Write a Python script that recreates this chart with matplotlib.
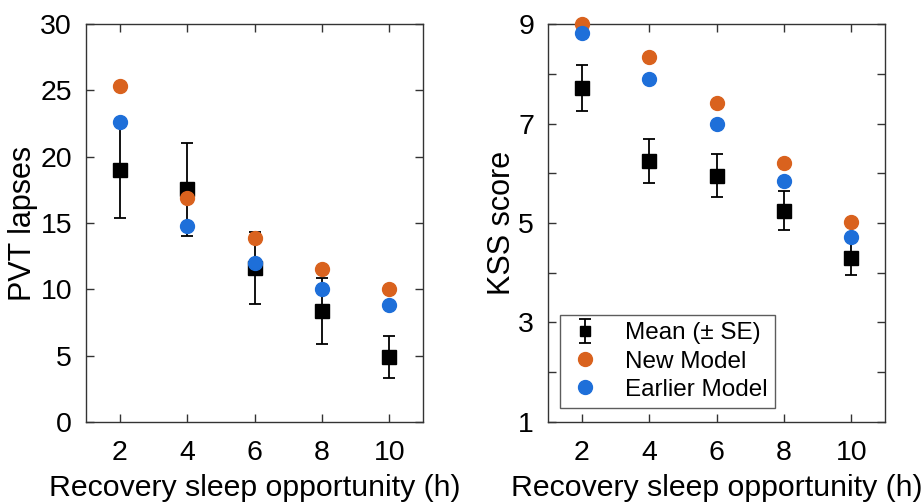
import matplotlib
matplotlib.use("Agg")
import matplotlib.pyplot as plt
from matplotlib.lines import Line2D

plt.rcParams["font.family"] = ["Liberation Sans", "DejaVu Sans"]

# recovery sleep opportunity (h)
hours = [2, 4, 6, 8, 10]

# PVT lapses
pvt_mean = [19.0, 17.55, 11.6, 8.35, 4.9]
pvt_se = [3.6, 3.5, 2.7, 2.5, 1.6]
pvt_new = [25.3, 16.9, 13.85, 11.55, 10.0]
pvt_old = [22.6, 14.8, 12.0, 10.05, 8.85]

# KSS score
kss_mean = [7.71, 6.25, 5.95, 5.25, 4.30]
kss_se = [0.46, 0.45, 0.43, 0.40, 0.35]
kss_new = [9.0, 8.34, 7.41, 6.2, 5.02]
kss_old = [8.83, 7.89, 6.99, 5.84, 4.72]

orange = "#D9621E"
blue = "#1E6FD9"
edge = "#333333"

fig = plt.figure(figsize=(9.24, 5.04), dpi=100)
ax1 = fig.add_axes([0.093, 0.163, 0.365, 0.789])
ax2 = fig.add_axes([0.593, 0.163, 0.365, 0.789])


def draw(ax, mean, se, new, old):
    eb = ax.errorbar(hours, mean, yerr=se, fmt="s", color="black", ms=10,
                     capsize=4, elinewidth=1.3, capthick=1.3,
                     label="Mean (± SE)", zorder=2)
    pn, = ax.plot(hours, new, "o", color=orange, ms=10, label="New Model",
                  zorder=3)
    po, = ax.plot(hours, old, "o", color=blue, ms=10, label="Earlier Model",
                  zorder=3)
    for ln in ax.lines:
        ln.set_clip_on(False)
    ax.set_xlim(1, 11)
    ax.set_xticks(hours)
    ax.tick_params(direction="in", length=6, width=1, colors=edge,
                   labelcolor="black", labelsize=20.5, top=True, right=True)
    ax.tick_params(axis="x", pad=13)
    ax.tick_params(axis="y", pad=10)
    for s in ax.spines.values():
        s.set_color(edge)
        s.set_linewidth(1.0)
    ax.set_xlabel("Recovery sleep opportunity (h)", fontsize=21.8,
                  va="baseline")
    ax.xaxis.set_label_coords(0.5, -0.186)
    return [eb, pn, po]


draw(ax1, pvt_mean, pvt_se, pvt_new, pvt_old)
ax1.set_ylim(0, 30)
ax1.set_yticks(range(0, 31, 5))
ax1.set_ylabel("PVT lapses", fontsize=22, va="center")
ax1.yaxis.set_label_coords(-0.187, 0.5)

handles = draw(ax2, kss_mean, kss_se, kss_new, kss_old)
ax2.set_ylim(1, 9)
ax2.set_yticks(range(1, 10))
ax2.set_yticklabels([str(v) if v % 2 else "" for v in range(1, 10)])
ax2.set_ylabel("KSS score", fontsize=22, va="center")
ax2.yaxis.set_label_coords(-0.1375, 0.5)

leg = ax2.legend(handles, [h.get_label() for h in handles],
                 loc="lower left", bbox_to_anchor=(0.035, 0.035), fontsize=17.5,
                 frameon=True, fancybox=False, edgecolor=edge,
                 handletextpad=0.9, borderpad=0.3, labelspacing=0.25,
                 handlelength=1.5, borderaxespad=0)
leg.get_frame().set_linewidth(1.0)
# smaller square in the errorbar legend entry
for ln in leg.findobj(Line2D):
    if ln.get_marker() == "s":
        ln.set_markersize(7)

fig.savefig("out.png", dpi=100)
